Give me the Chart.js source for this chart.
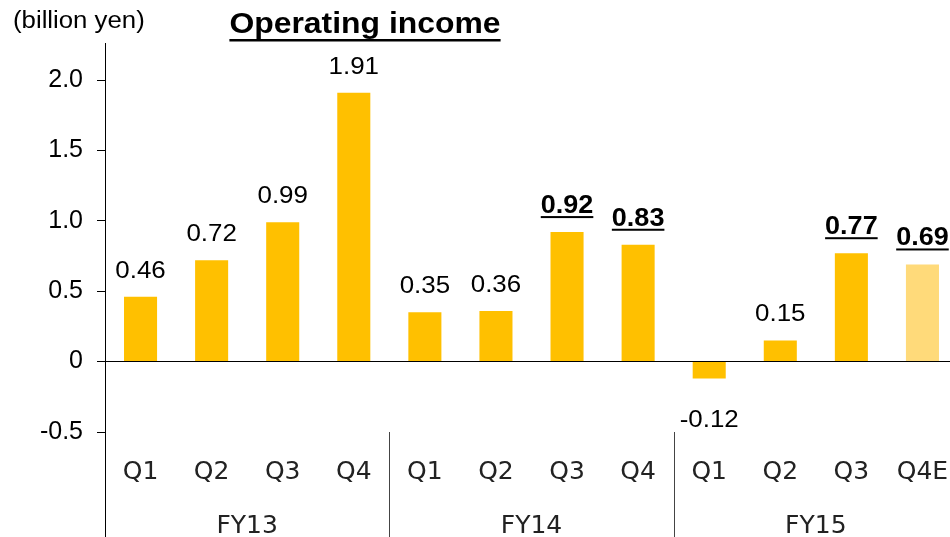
<!DOCTYPE html>
<html>
<head>
<meta charset="utf-8">
<title>Operating income</title>
<script src="https://cdn.jsdelivr.net/npm/chart.js@4/dist/chart.umd.min.js"></script>
<style>
    html, body { margin: 0; padding: 0; overflow: hidden; background: #fff; }
    #wrap { position: relative; width: 960px; height: 537px; }
</style>
</head>
<body>
<div id="wrap"><canvas id="incomeChart" width="960" height="537"></canvas></div>
<script>
// Operating income per quarter (billion yen)
const quarters = ['Q1', 'Q2', 'Q3', 'Q4', 'Q1', 'Q2', 'Q3', 'Q4', 'Q1', 'Q2', 'Q3', 'Q4E'];
const fiscalYears = ['FY13', 'FY14', 'FY15'];
const quartersPerYear = 4;
const income = [0.46, 0.72, 0.99, 1.91, 0.35, 0.36, 0.92, 0.83, -0.12, 0.15, 0.77, 0.69];
const highlighted = [false, false, false, false, false, false, true, true, false, false, true, true];
const forecast = [false, false, false, false, false, false, false, false, false, false, false, true];
const yTicks = [-0.5, 0, 0.5, 1.0, 1.5, 2.0];

const BAR_COLOR = '#FFC000';
const FORECAST_COLOR = '#FFDA7A';
const SANS = '"Liberation Sans", Arial, sans-serif';
const CAT_FONT = '"DejaVu Sans", Verdana, sans-serif';

// draw text squeezed/stretched horizontally around its centre
function wideText(ctx, text, cx, y, sx) {
    ctx.save();
    ctx.translate(cx, y);
    ctx.scale(sx, 1);
    ctx.textAlign = 'center';
    ctx.fillText(text, 0, 0);
    ctx.restore();
}

// Labels, title, fiscal year groups and separators
const annotations = {
    id: 'annotations',
    afterDraw(chart) {
        const ctx = chart.ctx;
        const area = chart.chartArea;
        const xs = chart.scales.x;
        ctx.save();

        // y axis keeps going down through the category band
        const ax = Math.round(area.left - 0.5) + 0.5;
        ctx.strokeStyle = '#000';
        ctx.lineWidth = 1;
        ctx.beginPath();
        ctx.moveTo(ax, area.bottom);
        ctx.lineTo(ax, chart.height);
        ctx.stroke();

        // separators between fiscal years
        ctx.strokeStyle = '#444';
        for (let g = 1; g < fiscalYears.length; g++) {
            const i = g * quartersPerYear;
            const bx = Math.round((xs.getPixelForTick(i - 1) + xs.getPixelForTick(i)) / 2) + 0.5;
            ctx.beginPath();
            ctx.moveTo(bx, area.bottom);
            ctx.lineTo(bx, chart.height);
            ctx.stroke();
        }

        // fiscal year names
        ctx.fillStyle = '#222';
        ctx.font = '25px ' + CAT_FONT;
        ctx.textBaseline = 'alphabetic';
        fiscalYears.forEach((fy, g) => {
            const first = g * quartersPerYear;
            const cx = (xs.getPixelForTick(first) + xs.getPixelForTick(first + quartersPerYear - 1)) / 2;
            ctx.textAlign = 'center';
            ctx.fillText(fy, cx, 533);
        });

        // value labels
        ctx.fillStyle = '#000';
        const meta = chart.getDatasetMeta(0);
        meta.data.forEach((bar, i) => {
            const text = income[i].toFixed(2);
            const y = income[i] >= 0 ? bar.y - 19 : bar.y + 48;
            ctx.font = (highlighted[i] ? 'bold 25px ' : '24px ') + SANS;
            wideText(ctx, text, bar.x, y, 1.08);
            if (highlighted[i]) {
                const w = ctx.measureText(text).width * 1.08;
                ctx.fillRect(bar.x - w / 2, y + 3, w, 2);
            }
        });

        // title
        ctx.font = 'bold 29px ' + SANS;
        wideText(ctx, 'Operating income', 365, 33, 1.1);
        const tw = ctx.measureText('Operating income').width * 1.1;
        ctx.fillRect(365 - tw / 2, 39, tw, 2.5);

        // unit
        ctx.font = '23px ' + SANS;
        ctx.save();
        ctx.translate(13, 28);
        ctx.scale(1.12, 1);
        ctx.textAlign = 'left';
        ctx.fillText('(billion yen)', 0, 0);
        ctx.restore();

        ctx.restore();
    }
};

document.addEventListener('DOMContentLoaded', function() {
    const ctx = document.getElementById('incomeChart');
    new Chart(ctx, {
        type: 'bar',
        data: {
            labels: quarters,
            datasets: [{
                data: income,
                backgroundColor: forecast.map(f => f ? FORECAST_COLOR : BAR_COLOR),
                borderWidth: 0,
                categoryPercentage: 1.0,
                barPercentage: 0.465
            }]
        },
        options: {
            responsive: false,
            animation: false,
            layout: { padding: { top: 43, right: 2, left: 0, bottom: 0 } },
            plugins: {
                legend: { display: false },
                tooltip: { enabled: false }
            },
            scales: {
                x: {
                    grid: { display: false, drawTicks: false },
                    border: { display: false },
                    ticks: {
                        autoSkip: false,
                        maxRotation: 0,
                        padding: 25,
                        color: '#222',
                        font: { family: CAT_FONT, size: 25 }
                    },
                    afterFit: scale => {
                        scale.height = 105;
                        // tick padding should not eat into the sides
                        scale.paddingLeft = 0;
                        scale.paddingRight = 0;
                    }
                },
                y: {
                    min: -0.5,
                    max: 2.263,
                    afterBuildTicks: scale => { scale.ticks = yTicks.map(v => ({ value: v })); },
                    afterFit: scale => { scale.width = 105; },
                    grid: {
                        drawOnChartArea: true,
                        color: c => (c.tick && c.tick.value === 0) ? '#000' : 'rgba(0,0,0,0)',
                        tickColor: '#000',
                        tickLength: 8,
                        lineWidth: 1
                    },
                    border: { display: true, color: '#000', width: 1 },
                    ticks: {
                        padding: 14,
                        color: '#000',
                        font: { family: SANS, size: 25 },
                        callback: v => v === 0 ? '0' : Number(v).toFixed(1)
                    }
                }
            }
        },
        plugins: [annotations]
    });
});
</script>
</body>
</html>
